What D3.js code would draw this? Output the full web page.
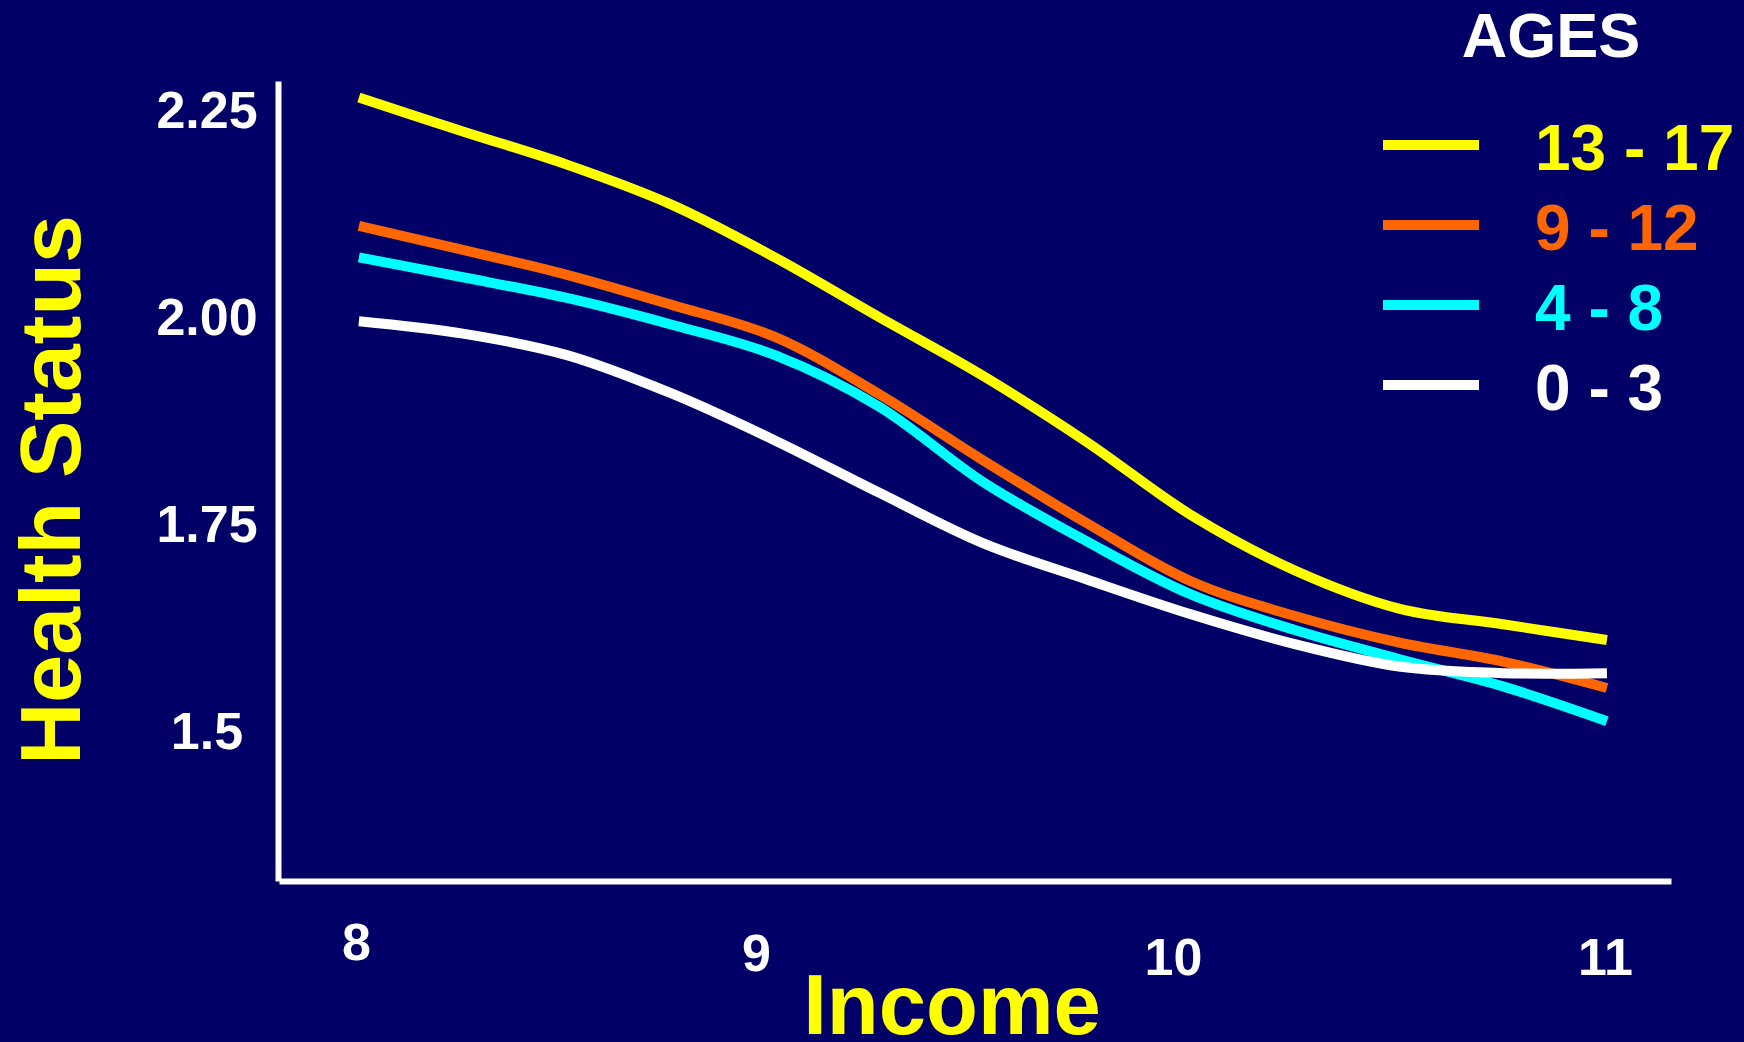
<!DOCTYPE html>
<html>
<head>
<meta charset="utf-8">
<script src="https://cdn.jsdelivr.net/npm/d3@7"></script>
<style>
  html, body { margin: 0; padding: 0; background: #000066; }
  svg { display: block; }
  text { font-family: "Liberation Sans", Arial, Helvetica, sans-serif; font-weight: bold; }
</style>
</head>
<body>
<svg id="chart" width="1744" height="1042"></svg>
<script>
// ---- data ----
const incomes   = [8, 8.25, 8.5, 8.75, 9, 9.25, 9.5, 9.75, 10, 10.25, 10.5, 10.75, 11];
const ages13_17 = [2.264, 2.223, 2.183, 2.135, 2.071, 1.999, 1.928, 1.848, 1.760, 1.693, 1.647, 1.628, 1.609];
const ages9_12  = [2.109, 2.080, 2.050, 2.014, 1.975, 1.906, 1.826, 1.750, 1.680, 1.638, 1.606, 1.583, 1.551];
const ages4_8   = [2.071, 2.047, 2.022, 1.990, 1.953, 1.891, 1.800, 1.728, 1.664, 1.621, 1.586, 1.553, 1.511];
const ages0_3   = [1.994, 1.979, 1.953, 1.907, 1.850, 1.787, 1.726, 1.682, 1.640, 1.604, 1.577, 1.569, 1.569];
const seriesNames  = ["13 - 17", "9 - 12", "4 - 8", "0 - 3"];
const seriesColors = ["#ffff00", "#ff6600", "#00ffff", "#ffffff"];
const yTickValues = [1.5, 1.75, 2.0, 2.25];
const yTickLabels = ["1.5", "1.75", "2.00", "2.25"];
const xTickValues = [8, 9, 10, 11];
const xTickLabels = ["8", "9", "10", "11"];
const legendTitle = "AGES";
const xTitle = "Income";
const yTitle = "Health Status";

// ---- rendering ----
const svg = d3.select("#chart");
svg.append("rect").attr("width", 1744).attr("height", 1042).attr("fill", "#000066");

const x = d3.scaleLinear().domain([7.808, 11.154]).range([279, 1671]);
const y = d3.scaleLinear().domain([1.318, 2.284]).range([881, 81]);

// y axis
const gy = svg.append("g").attr("transform", "translate(278,0)")
  .call(d3.axisLeft(y).tickValues(yTickValues).tickSize(0).tickSizeOuter(0)
        .tickFormat((d, i) => yTickLabels[i]));
gy.select(".domain").attr("stroke", "#ffffff").attr("stroke-width", 6);
gy.selectAll(".tick text")
  .attr("x", -71).attr("dy", "0.35em")
  .attr("text-anchor", "middle")
  .attr("fill", "#ffffff").attr("font-size", 52)
  .attr("font-family", null);

// x axis
const xNudge = [[-3, -12], [-19, -1], [-18, 3], [-2, 3]];
const gx = svg.append("g").attr("transform", "translate(0,881)")
  .call(d3.axisBottom(x).tickValues(xTickValues).tickSize(0).tickSizeOuter(0)
        .tickFormat((d, i) => xTickLabels[i]));
gx.select(".domain").attr("stroke", "#ffffff").attr("stroke-width", 6);
gx.selectAll(".tick text")
  .attr("x", (d, i) => xNudge[i][0])
  .attr("y", (d, i) => 91 + xNudge[i][1])
  .attr("dy", 0)
  .attr("text-anchor", "middle")
  .attr("fill", "#ffffff").attr("font-size", 52)
  .attr("font-family", null);

// titles
svg.append("text")
  .attr("transform", "translate(80,490) rotate(-90)")
  .attr("text-anchor", "middle")
  .attr("fill", "#ffff00").attr("font-size", 86)
  .text(yTitle);
svg.append("text")
  .attr("x", 952).attr("y", 1034)
  .attr("text-anchor", "middle")
  .attr("fill", "#ffff00").attr("font-size", 85)
  .text(xTitle);

// lines
const allSeries = [ages13_17, ages9_12, ages4_8, ages0_3];
const line = d3.line()
  .x((d, i) => x(incomes[i]))
  .y(d => y(d))
  .curve(d3.curveCatmullRom.alpha(0.5));
const drawOrder = [2, 1, 0, 3];
svg.append("g").selectAll("path")
  .data(drawOrder)
  .join("path")
  .attr("d", k => line(allSeries[k]))
  .attr("fill", "none")
  .attr("stroke", k => seriesColors[k])
  .attr("stroke-width", 10)
  .attr("stroke-linecap", "butt")
  .attr("stroke-linejoin", "round");

// legend
svg.append("text")
  .attr("x", 1551).attr("y", 57)
  .attr("text-anchor", "middle")
  .attr("fill", "#ffffff").attr("font-size", 63)
  .text(legendTitle);
const lg = svg.append("g").selectAll("g")
  .data(seriesNames)
  .join("g")
  .attr("transform", (d, i) => `translate(0,${145 + i * 80})`);
lg.append("line")
  .attr("x1", 1383).attr("x2", 1479)
  .attr("y1", 0).attr("y2", 0)
  .attr("stroke", (d, i) => seriesColors[i])
  .attr("stroke-width", 10);
lg.append("text")
  .attr("x", 1535).attr("y", 24.5)
  .attr("fill", (d, i) => seriesColors[i])
  .attr("font-size", 64)
  .text(d => d);
</script>
</body>
</html>
